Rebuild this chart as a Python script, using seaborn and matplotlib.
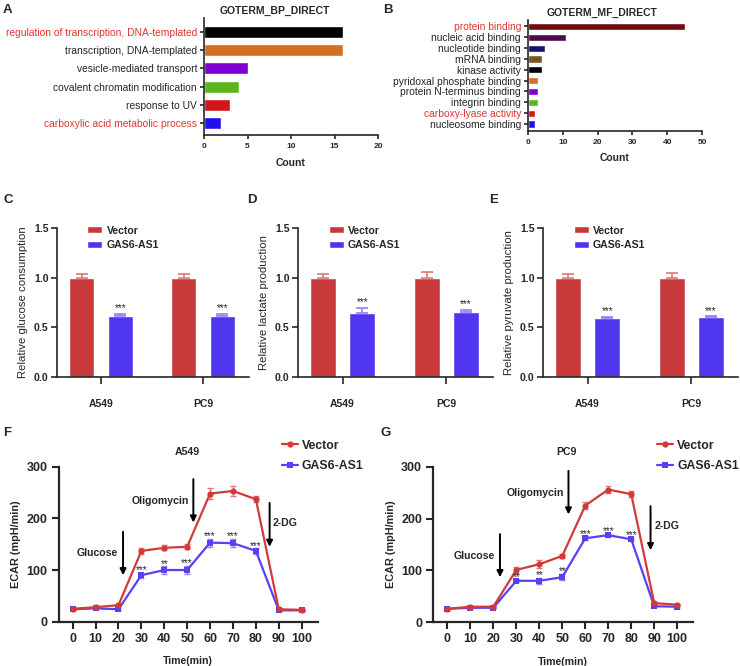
import matplotlib
matplotlib.use('Agg')
import matplotlib.pyplot as plt
import numpy as np
import pandas as pd
import seaborn as sns

# GO enrichment (A, B)
bp_terms = ['regulation of transcription, DNA-templated', 'transcription, DNA-templated',
            'vesicle-mediated transport', 'covalent chromatin modification',
            'response to UV', 'carboxylic acid metabolic process']
bp_counts = [16, 16, 5, 4, 3, 2]
bp_colors = ['#000000', '#d57020', '#7f00d4', '#5cb51e', '#d0181c', '#2010f0']
bp_red = [0, 5]

mf_terms = ['protein binding', 'nucleic acid binding', 'nucleotide binding', 'mRNA binding',
            'kinase activity', 'pyridoxal phosphate binding', 'protein N-terminus binding',
            'integrin binding', 'carboxy-lyase activity', 'nucleosome binding']
mf_counts = [45, 11, 5, 4, 4, 3, 3, 3, 2, 2]
mf_colors = ['#6e0c12', '#4a0a4e', '#14146e', '#7a5522', '#000000', '#d57020',
             '#7f00d4', '#5cb51e', '#d0181c', '#2010f0']
mf_red = [0, 8]

# relative metabolism (C, D, E)
cells = ['A549', 'PC9']
groups = ['Vector', 'GAS6-AS1']
glucose_vec = [1.0, 1.0]
glucose_vec_err = [0.035, 0.035]
glucose_gas = [0.61, 0.61]
glucose_gas_err = [0.025, 0.025]
lactate_vec = [1.0, 1.0]
lactate_vec_err = [0.035, 0.055]
lactate_gas = [0.64, 0.65]
lactate_gas_err = [0.055, 0.025]
pyruvate_vec = [1.0, 1.0]
pyruvate_vec_err = [0.035, 0.045]
pyruvate_gas = [0.59, 0.60]
pyruvate_gas_err = [0.015, 0.012]

# ECAR (F, G)
times = [0, 10, 20, 30, 40, 50, 60, 70, 80, 90, 100]
a549_vec = [25, 28, 32, 137, 143, 145, 248, 253, 237, 24, 23]
a549_vec_err = [2, 2, 2, 6, 5, 5, 10, 9, 6, 2, 2]
a549_gas = [24, 26, 24, 90, 100, 100, 153, 152, 137, 22, 22]
a549_gas_err = [2, 2, 2, 5, 7, 8, 8, 8, 5, 2, 2]
a549_stars = ['', '', '', '***', '**', '***', '***', '***', '***', '', '']
pc9_vec = [26, 30, 30, 101, 112, 128, 225, 256, 247, 37, 34]
pc9_vec_err = [2, 2, 2, 6, 8, 4, 6, 7, 6, 2, 2]
pc9_gas = [26, 28, 28, 80, 80, 87, 162, 168, 160, 31, 30]
pc9_gas_err = [2, 2, 2, 3, 6, 6, 4, 3, 3, 2, 2]
pc9_stars = ['', '', '', '**', '**', '**', '***', '***', '***', '', '']

sns.set_style('ticks')
plt.rcParams['font.family'] = ['Liberation Sans', 'DejaVu Sans']
plt.rcParams['axes.linewidth'] = 1.2

RED = '#c8393b'
BLUE = '#5035ef'
RED_L = '#e07575'
BLUE_L = '#8f80f5'

W, H = 740, 666
fig = plt.figure(figsize=(W / 100, H / 100), dpi=100)


def px_axes(l, t, r, b):
    return fig.add_axes([l / W, 1 - b / H, (r - l) / W, (b - t) / H])


def letter(x, y, s):
    fig.text(x / W, 1 - y / H, s, fontsize=9.5, fontweight='bold', va='center', ha='left')


def go_panel(ax, terms, counts, colors, red_idx, xmax, step, title, title_x, ylim, xpad):
    df = pd.DataFrame({'term': terms, 'count': counts})
    sns.barplot(data=df, x='count', y='term', hue='term', palette=colors, legend=False,
                width=0.66, ax=ax, saturation=1)
    ax.set_xlim(0, xmax)
    ax.set_ylim(*ylim)
    ax.set_xticks(np.arange(0, xmax + 1, step))
    ax.set_ylabel('')
    ax.set_xlabel('Count', fontsize=7.5, fontweight='bold', labelpad=xpad)
    ax.set_title(title, fontsize=7.5, fontweight='bold', pad=3, x=title_x)
    ax.tick_params(axis='y', labelsize=7.4, length=3, width=1.2, pad=2)
    ax.tick_params(axis='x', labelsize=6, length=3, width=1.2, pad=2.5)
    for t in ax.get_xticklabels():
        t.set_fontweight('bold')
    for i, t in enumerate(ax.get_yticklabels()):
        if i in red_idx:
            t.set_color('#e03535')
    sns.despine(ax=ax)


axA = px_axes(204, 18, 378, 135)
go_panel(axA, bp_terms, bp_counts, bp_colors, bp_red, 20, 5, 'GOTERM_BP_DIRECT', 0.405,
         (5.66, -0.77), 6)
axB = px_axes(528, 20, 702, 131)
go_panel(axB, mf_terms, mf_counts, mf_colors, mf_red, 50, 10, 'GOTERM_MF_DIRECT', 0.425,
         (9.65, -0.6), 5)


def rel_panel(ax, vec, vec_err, gas, gas_err, ylabel):
    df = pd.DataFrame({'cell': cells * 2,
                       'group': [groups[0]] * 2 + [groups[1]] * 2,
                       'value': vec + gas})
    sns.barplot(data=df, x='cell', y='value', hue='group', hue_order=groups,
                palette=[RED, BLUE], width=0.76, gap=0.34, errorbar=None,
                saturation=1, ax=ax)
    errs = [vec_err, gas_err]
    ecols = [RED_L, BLUE_L]
    bar_sets = list(ax.containers)[:2]
    for k, cont in enumerate(bar_sets):
        for j, bar in enumerate(cont.patches):
            x = bar.get_x() + bar.get_width() / 2
            y = bar.get_height()
            e = errs[k][j]
            ax.errorbar([x], [y], yerr=[[0], [e]], fmt='none', ecolor=ecols[k],
                        elinewidth=1.2, capsize=4, capthick=1.2, zorder=1)
            if k == 1:
                ax.text(x, y + e + 0.005, '***', ha='center', va='bottom', fontsize=7.2)
    ax.set_xlim(-0.43, 1.45)
    ax.set_ylim(0, 1.5)
    ax.set_yticks([0, 0.5, 1.0, 1.5])
    ax.set_xlabel('')
    ax.set_ylabel(ylabel, fontsize=8.2, labelpad=4)
    ax.tick_params(axis='y', labelsize=7.6, length=4, width=1.2, pad=2)
    ax.tick_params(axis='x', labelsize=7.5, length=5, width=1.2, pad=11)
    for t in ax.get_xticklabels() + ax.get_yticklabels():
        t.set_fontweight('bold')
    sns.despine(ax=ax)
    sns.move_legend(ax, 'upper left', bbox_to_anchor=(0.135, 1.045), frameon=False,
                    title=None, borderaxespad=0, handlelength=1.45, handleheight=0.65,
                    handletextpad=0.4, labelspacing=0.4,
                    prop={'weight': 'bold', 'size': 7.6})


axC = px_axes(57, 228, 249, 377)
rel_panel(axC, glucose_vec, glucose_vec_err, glucose_gas, glucose_gas_err,
          'Relative glucose consumption')
axD = px_axes(298, 228, 493, 377)
rel_panel(axD, lactate_vec, lactate_vec_err, lactate_gas, lactate_gas_err,
          'Relative lactate production')
axE = px_axes(543, 228, 738, 377)
rel_panel(axE, pyruvate_vec, pyruvate_vec_err, pyruvate_gas, pyruvate_gas_err,
          'Relative pyruvate production')


def ecar_panel(ax, vec, vec_err, gas, gas_err, stars, title, title_t,
               glu, oli, dg):
    df = pd.DataFrame({'time': times * 2,
                       'ecar': vec + gas,
                       'group': [groups[0]] * len(times) + [groups[1]] * len(times)})
    ax.errorbar(times, gas, yerr=gas_err, fmt='none', ecolor=BLUE_L, elinewidth=1,
                capsize=2.5, capthick=1, zorder=1)
    ax.errorbar(times, vec, yerr=vec_err, fmt='none', ecolor=RED_L, elinewidth=1,
                capsize=2.5, capthick=1, zorder=1)
    sns.lineplot(data=df, x='time', y='ecar', hue='group', style='group',
                 hue_order=groups[::-1], style_order=groups[::-1],
                 markers={'Vector': 'o', 'GAS6-AS1': 's'}, dashes=False,
                 palette={'Vector': '#d23a3a', 'GAS6-AS1': '#5a40f5'},
                 markersize=4.5, markeredgewidth=0, linewidth=1.6, errorbar=None, ax=ax)
    for t, g, e, s in zip(times, gas, gas_err, stars):
        if s:
            ax.text(t, g + e + 5, s, ha='center', va='center', fontsize=7.2)
    ax.set_xlim(-6.1, 107)
    ax.set_ylim(0, 300)
    ax.set_xticks(times)
    ax.set_yticks([0, 100, 200, 300])
    ax.set_xlabel('Time(min)', fontsize=7.6, fontweight='bold', labelpad=8)
    ax.set_ylabel('ECAR (mpH/min)', fontsize=7.8, fontweight='bold', labelpad=4)
    ax.tick_params(axis='both', labelsize=9, length=5, width=1.5, pad=3)
    for t in ax.get_xticklabels() + ax.get_yticklabels():
        t.set_fontweight('bold')
    for sp in ax.spines.values():
        sp.set_linewidth(1.6)
    sns.despine(ax=ax)
    ax.text(title_t, 328, title, ha='center', va='center', fontsize=7.6, fontweight='bold',
            clip_on=False)
    for (tx, ty, ha, label), (at, y0, y1) in [glu, oli, dg]:
        ax.text(tx, ty, label, ha=ha, va='center', fontsize=7.6, fontweight='bold',
                clip_on=False)
        ax.annotate('', xy=(at, y1), xytext=(at, y0),
                    arrowprops=dict(arrowstyle='-|>', color='black', lw=1.4,
                                    mutation_scale=9, shrinkA=0, shrinkB=0),
                    annotation_clip=False)
    h, l = ax.get_legend_handles_labels()
    ax.legend(h[::-1], l[::-1], loc='upper left', bbox_to_anchor=(0.843, 1.206),
              frameon=False, borderaxespad=0, handlelength=1.3, handletextpad=0.33,
              labelspacing=0.72, prop={'weight': 'bold', 'size': 8.8})


axF = px_axes(58.7, 466.7, 317.7, 621.7)
ecar_panel(axF, a549_vec, a549_vec_err, a549_gas, a549_gas_err, a549_stars, 'A549', 50.2,
           ((19.9, 133, 'right', 'Glucose'), (22, 174, 90)),
           ((50.8, 234, 'right', 'Oligomycin'), (52.7, 276, 192)),
           ((87.5, 192, 'left', '2-DG'), (86, 230, 145)))
axG = px_axes(433.3, 466.7, 693.3, 622.3)
ecar_panel(axG, pc9_vec, pc9_vec_err, pc9_gas, pc9_gas_err, pc9_stars, 'PC9', 52,
           ((20.6, 128, 'right', 'Glucose'), (22.9, 170, 87)),
           ((50.7, 250, 'right', 'Oligomycin'), (52.7, 292, 208)),
           ((90, 185, 'left', '2-DG'), (88.4, 224, 139)))

letter(3, 10, 'A')
letter(383, 10, 'B')
letter(3, 200, 'C')
letter(247, 200, 'D')
letter(489, 200, 'E')
letter(3, 433, 'F')
letter(381, 433, 'G')

fig.savefig('out.png', dpi=100)
